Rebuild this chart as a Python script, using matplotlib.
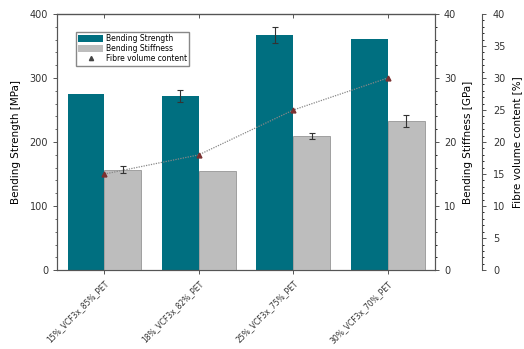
import numpy as np
import matplotlib
matplotlib.use('Agg')
import matplotlib.pyplot as plt
from matplotlib.ticker import MultipleLocator
from matplotlib.patches import Patch
from matplotlib.lines import Line2D

# data
samples = ['15%_VCF3x_85%_PET', '18%_VCF3x_82%_PET', '25%_VCF3x_75%_PET', '30%_VCF3x_70%_PET']
strength = [275, 272, 367, 361]          # MPa
strength_err = [0, 10, 12, 0]
stiffness = [15.7, 15.5, 20.9, 23.3]     # GPa
stiffness_err = [0.6, 0, 0.5, 1.0]
fibre_vol = [15, 18, 25, 30]             # %

teal = '#006f80'
grey = '#bdbdbd'
axcol = '#555555'

plt.rcParams['font.family'] = 'DejaVu Sans'
fig = plt.figure(figsize=(5.24, 3.49), dpi=100)
ax = fig.add_axes([0.109, 0.226, 0.721, 0.734])

x = np.arange(len(samples))
w = 0.39


def err_bars(a, xs, ys, es):
    # only draw bars that have a visible error
    idx = [i for i, e in enumerate(es) if e > 0]
    a.errorbar([xs[i] for i in idx], [ys[i] for i in idx], yerr=[es[i] for i in idx],
               fmt='none', ecolor='#333333', elinewidth=0.8, capsize=2, capthick=0.8, zorder=3)


ax.bar(x - w/2, strength, w, color=teal, zorder=2)
err_bars(ax, x - w/2, strength, strength_err)
ax.set_xlim(-0.5, 3.5)
ax.set_ylim(0, 400)
ax.yaxis.set_major_locator(MultipleLocator(100))
ax.yaxis.set_minor_locator(MultipleLocator(20))
ax.set_ylabel('Bending Strength [MPa]', fontsize=7.5, labelpad=6)
ax.set_xticks(x)
ax.set_xticklabels(samples, rotation=45, ha='right', rotation_mode='anchor', fontsize=5.5)
ax.tick_params(axis='both', colors=axcol, labelcolor='#333333', labelsize=7, length=3, width=0.7)
ax.tick_params(axis='x', labelsize=5.5)
ax.tick_params(axis='y', which='minor', length=1.5, width=0.6, colors=axcol)
top = ax.secondary_xaxis('top')
top.set_xticks(x)
top.set_xticklabels([])
top.tick_params(direction='in', length=3, width=0.7, colors=axcol)

# stiffness axis
ax2 = ax.twinx()
ax2.bar(x + w/2, stiffness, w, color=grey, edgecolor='#888888', linewidth=0.5, zorder=2)
err_bars(ax2, x + w/2, stiffness, stiffness_err)
ax2.set_ylim(0, 40)
ax2.yaxis.set_major_locator(MultipleLocator(10))
ax2.yaxis.set_minor_locator(MultipleLocator(2))
ax2.set_ylabel('Bending Stiffness [GPa]', fontsize=7.5, labelpad=5)
ax2.tick_params(axis='y', colors=axcol, labelcolor='#333333', labelsize=7, length=3, width=0.7)
ax2.tick_params(axis='y', which='minor', length=1.5, width=0.6)

# fibre volume axis
ax3 = ax.twinx()
ax3.spines['right'].set_position(('axes', 1.124))
ax3.plot(x, fibre_vol, linestyle=(0, (1, 1)), color='#888888', linewidth=0.9,
         marker='^', markersize=3.5, markerfacecolor='#7a3030', markeredgecolor='#7a3030', zorder=4)
ax3.set_ylim(0, 40)
ax3.yaxis.set_major_locator(MultipleLocator(5))
ax3.yaxis.set_minor_locator(MultipleLocator(1))
ax3.set_ylabel('Fibre volume content [%]', fontsize=7.5, labelpad=5)
ax3.tick_params(axis='y', colors=axcol, labelcolor='#333333', labelsize=7, length=3, width=0.7, pad=5)
ax3.tick_params(axis='y', which='minor', length=1.5, width=0.6)

for a in (ax, ax2, ax3):
    for s in a.spines.values():
        s.set_color(axcol)
        s.set_linewidth(0.8)
ax3.spines['left'].set_visible(False)
ax3.spines['top'].set_visible(False)
ax3.spines['bottom'].set_visible(False)

handles = [Patch(facecolor=teal), Patch(facecolor=grey),
           Line2D([], [], linestyle='none', marker='^', markersize=3, color='#444444')]
ax.legend(handles, ['Bending Strength', 'Bending Stiffness', 'Fibre volume content'],
          loc='upper left', bbox_to_anchor=(0.04, 0.945), fontsize=5.5, frameon=True,
          fancybox=False, edgecolor='#888888', framealpha=1, borderpad=0.3,
          labelspacing=0.15, handlelength=3.2, handleheight=1.0, handletextpad=0.4)

fig.savefig('out.png', dpi=100)
